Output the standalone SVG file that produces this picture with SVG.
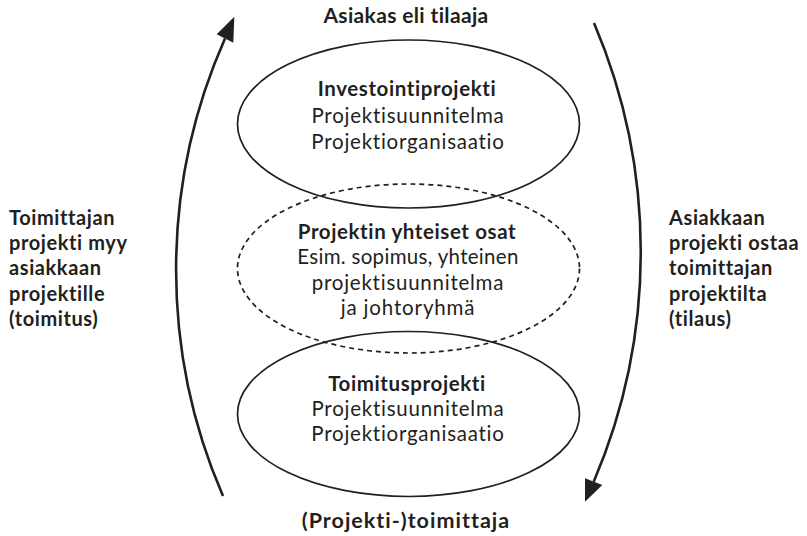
<svg xmlns="http://www.w3.org/2000/svg" width="807" height="536" viewBox="0 0 807 536">
<style>
text{font-family:Lato,"Liberation Sans",sans-serif;fill:#231f20;font-size:20.5px;font-variant-ligatures:none;letter-spacing:0.75px}
.c{text-anchor:middle}
.b{font-weight:700;font-size:21px;letter-spacing:0.35px}
.m{font-weight:700;letter-spacing:0.6px}
.s{font-weight:700;font-size:20px;letter-spacing:0.6px}
.e{fill:none;stroke:#231f20;stroke-width:1.7}
.d{stroke-dasharray:5 4}
.arc{fill:none;stroke:#231f20;stroke-width:2.6}
.head{fill:#231f20}
</style>
<rect width="807" height="536" fill="#fff"/>
<g id="connectors">
<path class="arc" d="M223 496 A570 570 0 0 1 225 38.5"/>
<polygon class="head" points="234.3,16.7 216.7,34.3 233.3,42.7"/>
<path class="arc" d="M594 23 A584 584 0 0 1 593.7 481.7"/>
<polygon class="head" points="585,501.7 585,478.3 602.3,485"/>
</g>
<g id="asiakas">
<text class="c b" x="406" y="23">Asiakas eli tilaaja</text>
</g>
<g id="toimittaja">
<text class="c b" x="406" y="528" style="font-size:21.5px;letter-spacing:1px">(Projekti-)toimittaja</text>
</g>
<g id="investointiprojekti">
<ellipse class="e" cx="408.5" cy="124" rx="171" ry="84"/>
<text class="c m" x="407" y="96">Investointiprojekti</text>
<text class="c" x="408" y="123">Projektisuunnitelma</text>
<text class="c" x="408" y="149">Projektiorganisaatio</text>
</g>
<g id="yhteiset">
<ellipse class="e d" cx="408.5" cy="268.5" rx="171" ry="84.5"/>
<text class="c m" x="407" y="239">Projektin yhteiset osat</text>
<text class="c" x="408" y="264" style="letter-spacing:0.3px">Esim. sopimus, yhteinen</text>
<text class="c" x="408" y="290">projektisuunnitelma</text>
<text class="c" x="408" y="315" style="letter-spacing:0.85px">ja johtoryhmä</text>
</g>
<g id="toimitusprojekti">
<ellipse class="e" cx="408.5" cy="414" rx="171" ry="82.5"/>
<text class="c m" x="407" y="391">Toimitusprojekti</text>
<text class="c" x="408" y="416">Projektisuunnitelma</text>
<text class="c" x="408" y="441">Projektiorganisaatio</text>
</g>
<g id="vasen">
<text class="s" x="9" y="225">Toimittajan</text>
<text class="s" x="9" y="250">projekti myy</text>
<text class="s" x="9" y="275">asiakkaan</text>
<text class="s" x="9" y="301">projektille</text>
<text class="s" x="9" y="326">(toimitus)</text>
</g>
<g id="oikea">
<text class="s" x="669" y="225">Asiakkaan</text>
<text class="s" x="669" y="250">projekti ostaa</text>
<text class="s" x="669" y="275">toimittajan</text>
<text class="s" x="669" y="301">projektilta</text>
<text class="s" x="669" y="326">(tilaus)</text>
</g>
</svg>
